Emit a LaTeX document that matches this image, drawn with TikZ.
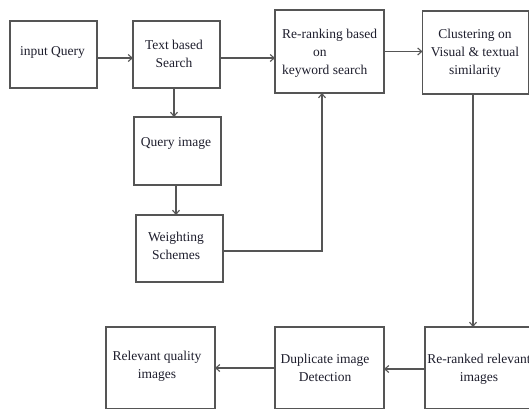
\documentclass[tikz,border=0pt]{standalone}
\usepackage{fontspec}
\setmainfont{Liberation Serif}
\usetikzlibrary{arrows.meta}
\definecolor{linec}{RGB}{85,85,85}
\definecolor{textc}{RGB}{30,30,45}
\tikzset{
  box/.style={draw=linec, line width=1.1pt, fill=white, inner sep=0pt, outer sep=0pt},
  txt/.style={text=textc, inner sep=0pt, font=\fontsize{13.5}{18}\selectfont},
  arr/.style={draw=linec, line width=1.1pt, -{Straight Barb[length=4pt,width=7pt]}}
}
\begin{document}
\begin{tikzpicture}[x=1pt,y=-1pt]
\useasboundingbox (0,0) rectangle (529,408);
\clip (0,0) rectangle (529,408);
\fill[white] (0,0) rectangle (529,408);
% boxes
\node[box, minimum width=87pt, minimum height=67pt] (a) at (53.5,54.5) {};
\node[box, minimum width=87pt, minimum height=67pt] (b) at (176.5,54.5) {};
\node[box, minimum width=109pt, minimum height=83pt] (c) at (329.5,51.5) {};
\node[box, minimum width=106pt, minimum height=83pt] (d) at (475.5,52.5) {};
\node[box, minimum width=87pt, minimum height=68pt] (e) at (177.5,151) {};
\node[box, minimum width=87pt, minimum height=67pt] (f) at (179.5,248.5) {};
\node[box, minimum width=109pt, minimum height=82pt] (g) at (479.5,368) {};
\node[box, minimum width=109pt, minimum height=82pt] (h) at (329.5,368) {};
\node[box, minimum width=109pt, minimum height=82pt] (i) at (160.5,368) {};
% texts
\node[txt] (ta) at (52.5,52) {input Query};
\node[txt, align=center] (tb) at (174,54) {Text based\\Search};
\node[txt, align=left, anchor=west] (tc) at (282,53.5) {Re-ranking based\\\hspace{31pt}on\\keyword search};
\node[txt, align=center] (td) at (475,53.5) {Clustering on\\Visual \& textual\\similarity};
\node[txt] (te) at (176,143) {Query image};
\node[txt, align=center] (tf) at (176,246) {Weighting\\Schemes};
\node[txt, align=center] (tg) at (479,369) {Re-ranked relevant\\images};
\node[txt, align=center] (th) at (325,368) {Duplicate image\\Detection};
\node[txt, align=center] (ti) at (157,366.5) {Relevant quality\\images};
% connectors
\draw[arr] ([yshift=-3.5]a.east) -- ([yshift=-3.5]b.west);
\draw[arr] ([yshift=-3.5]b.east) -- ([yshift=-3.5]b.east -| c.west);
\draw[arr] (c.east) -- (c.east -| d.west);
\draw[arr] ([xshift=-2.5]b.south) -- ([xshift=-2.5]b.south |- e.north);
\draw[arr] ([xshift=-1.5]e.south) -- ([xshift=-1.5]e.south |- f.north);
\draw[arr] ([yshift=-2.5]f.east) -| ([xshift=-7.5]c.south);
\draw[arr] ([xshift=-2.5]d.south) -- ([xshift=-2.5]d.south |- g.north);
\draw[arr] ([yshift=-1]g.west) -- ([yshift=-1]h.east);
\draw[arr] (h.west) -- (i.east);
\end{tikzpicture}
\end{document}
